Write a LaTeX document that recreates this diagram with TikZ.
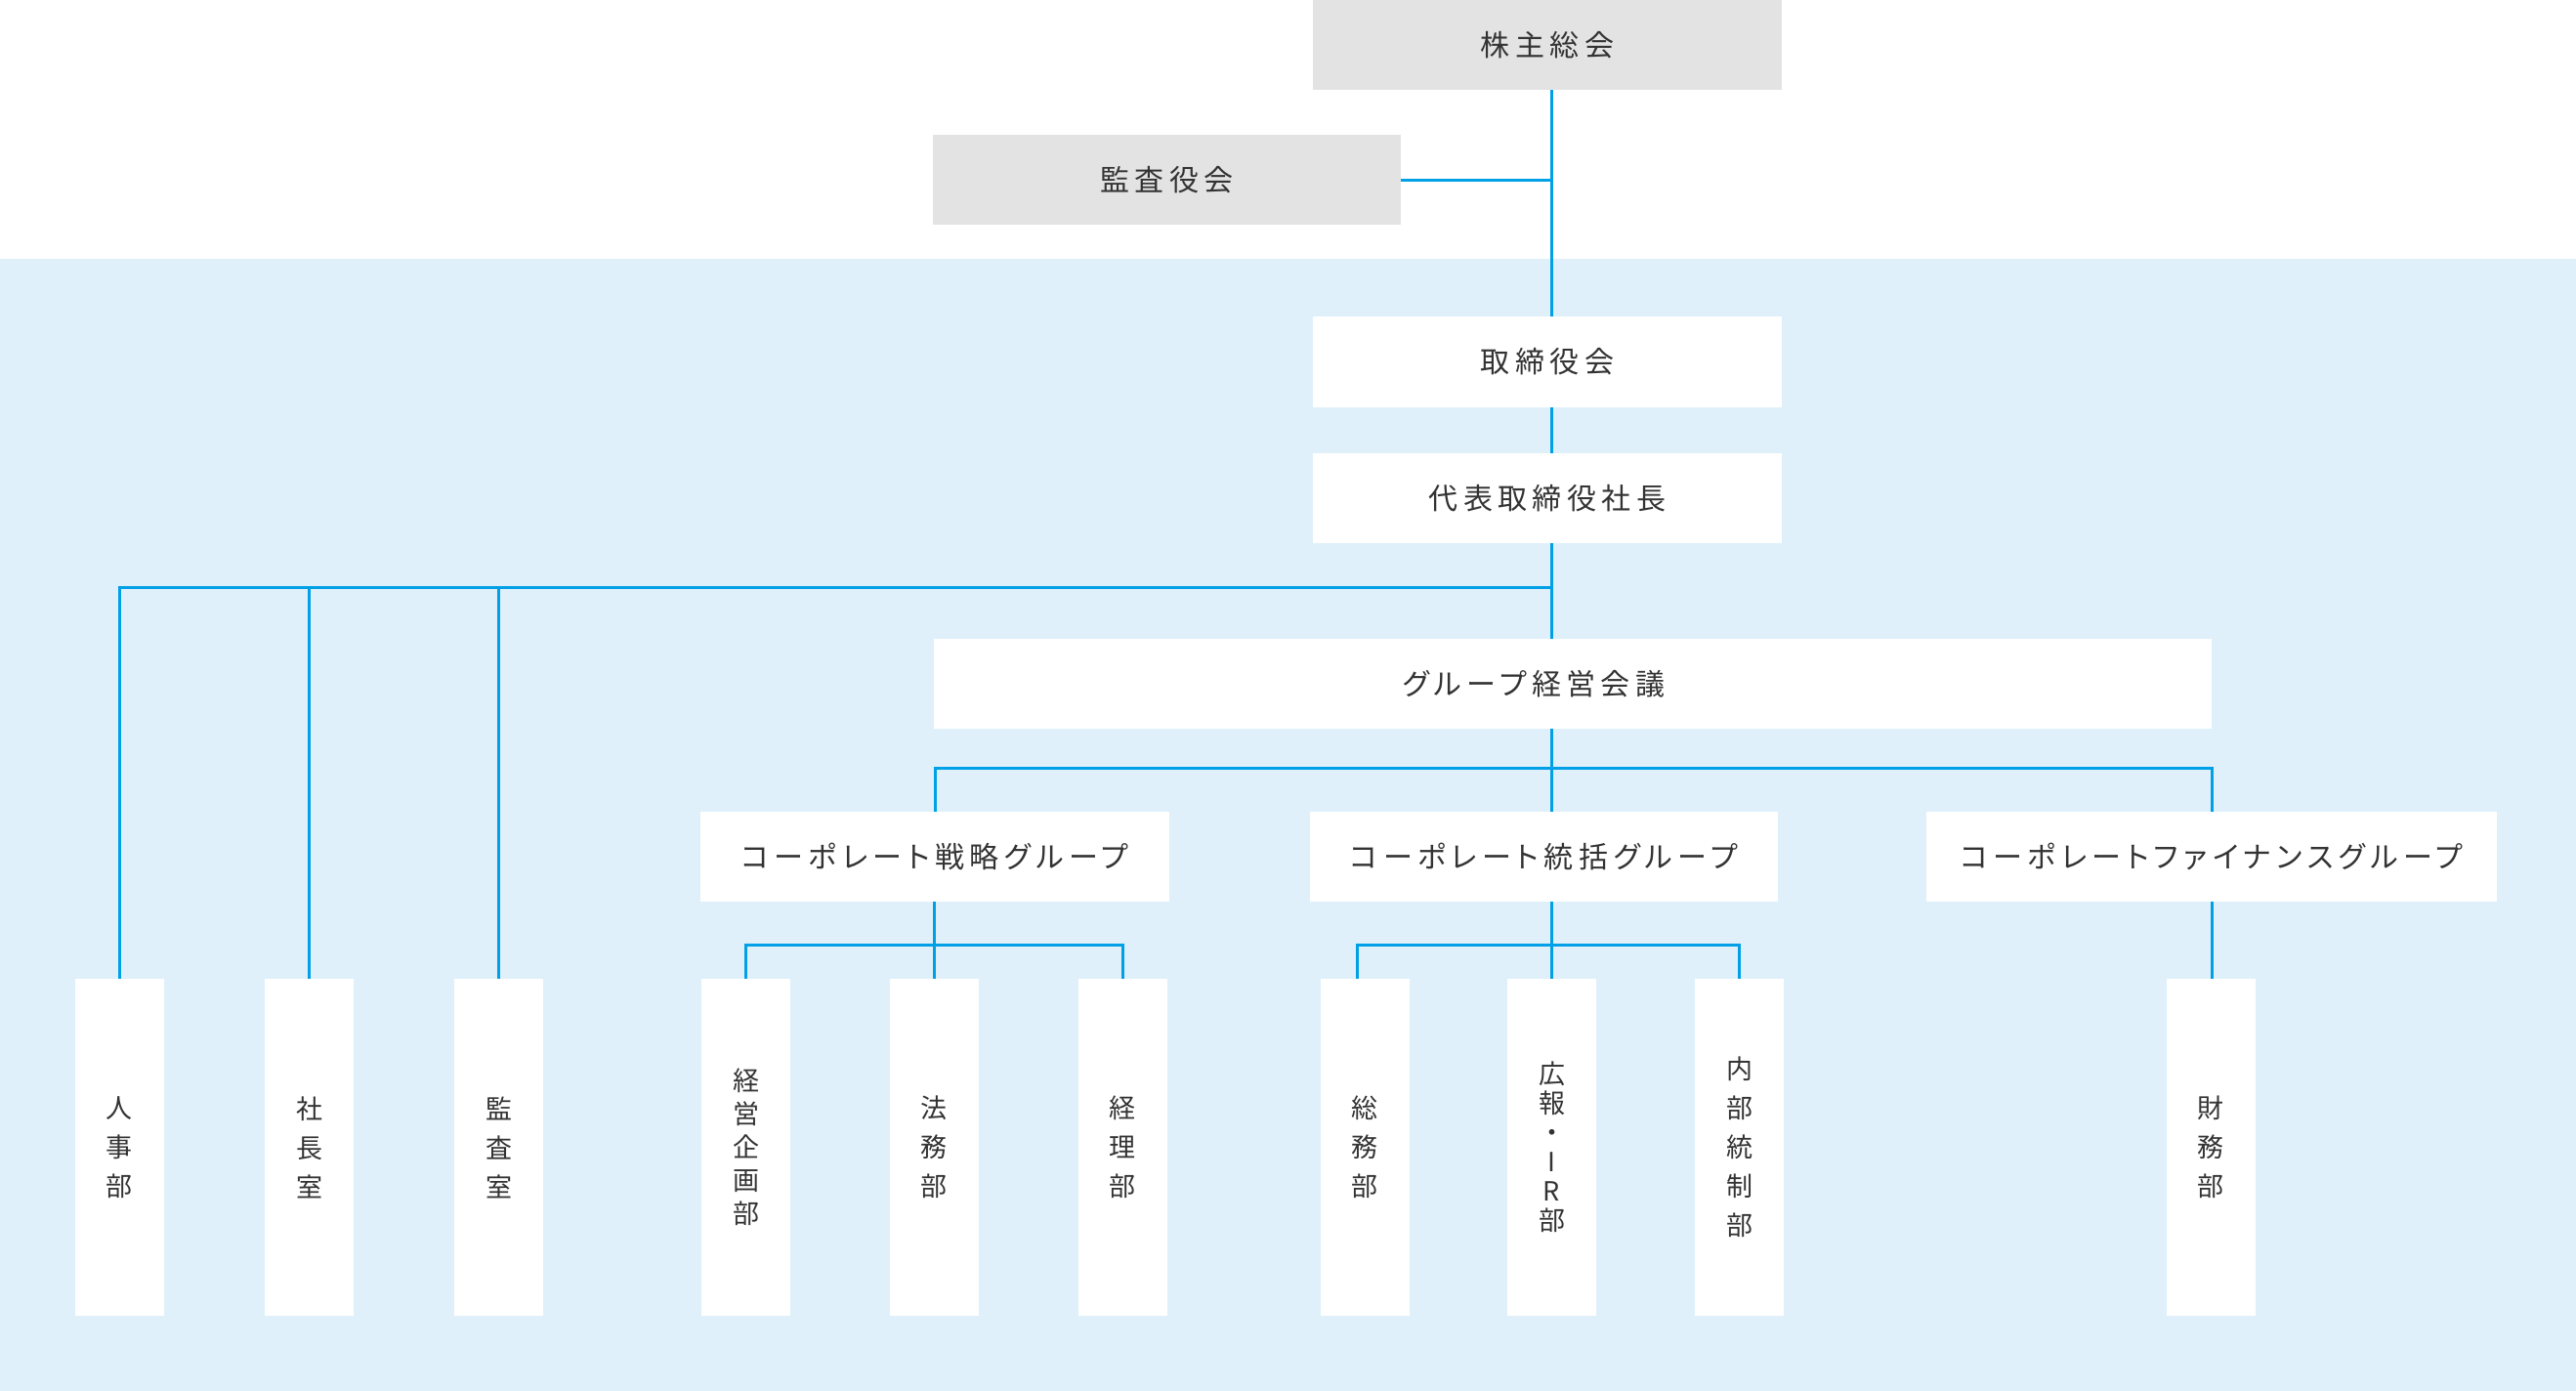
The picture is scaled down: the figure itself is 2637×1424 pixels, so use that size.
\documentclass[tikz,border=0pt]{standalone}
\usepackage{fontspec}
\newfontfamily\jph{Noto Sans CJK JP}[LetterSpace=18,CharacterWidth=AlternateProportional]
\newfontfamily\jpv{Noto Sans CJK JP}
\definecolor{lineblue}{HTML}{00A0E6}
\definecolor{bgblue}{HTML}{DFF0FA}
\definecolor{boxgray}{HTML}{E3E3E3}
\definecolor{txt}{HTML}{333333}
\begin{document}
\begin{tikzpicture}[x=1pt,y=-1pt,
  htext/.style={text=txt, inner sep=0pt, font=\jph\fontsize{30}{36}\selectfont},
  hbox/.style={htext, fill=white, minimum height=92pt},
  gbox/.style={hbox, fill=boxgray},
  vbox/.style={fill=white, inner sep=0pt, minimum width=91pt, minimum height=345pt,
    text=txt, align=center, font=\jpv\fontsize{27}{#1}\selectfont},
  vbox/.default=40,
  conn/.style={draw=lineblue, line width=3pt}]
\useasboundingbox (0,0) rectangle (2637,1424);
\fill[white] (0,0) rectangle (2637,1424);
\fill[bgblue] (0,265) rectangle (2637,1424);
\coordinate (mx) at (1588,0);
\coordinate (sx) at (1389,0);
\coordinate (bus1) at (0,601);
\coordinate (bus2) at (0,786);
\coordinate (bus3) at (0,967);
% upper boxes
\node[gbox, minimum width=480pt] (kabu) at (1584,46) {株主総会};
\node[gbox, minimum width=479pt] (kansa) at (1194.5,184) {監査役会};
\node[hbox, minimum width=480pt, minimum height=93pt] (tori) at (1584,370.5) {取締役会};
\node[hbox, minimum width=480pt] (daihyo) at (1584,510) {代表取締役社長};
\node[hbox, minimum width=1308pt,
  label={[htext, xshift=-40pt]center:グループ経営会議}] (gkaigi) at (1610,700) {};
\node[hbox, minimum width=480pt] (senryaku) at (957,877) {コーポレート戦略グループ};
\node[hbox, minimum width=479pt] (toukatsu) at (1580.5,877) {コーポレート統括グループ};
\node[hbox, minimum width=584pt] (finance) at (2264,877) {コーポレートファイナンスグループ};
% bottom boxes
\node[vbox] (jinji) at (122,1174.5) {人\\事\\部};
\node[vbox] (shacho) at (316.5,1174.5) {社\\長\\室};
\node[vbox] (kansas) at (510.5,1174.5) {監\\査\\室};
\node[vbox=34] (keiei) at (763.5,1174.5) {経\\営\\企\\画\\部};
\node[vbox] (houmu) at (956,1174.5) {法\\務\\部};
\node[vbox] (keiri) at (1149,1174.5) {経\\理\\部};
\node[vbox] (somu) at (1397,1174.5) {総\\務\\部};
\node[vbox=30] (kouhou) at (1588.5,1174.5) {広\\報\\・\\I\\R\\部};
\node[vbox] (naibu) at (1780.5,1174.5) {内\\部\\統\\制\\部};
\node[vbox] (zaimu) at (2263,1174.5) {財\\務\\部};
% connectors
\draw[conn] (kabu.south -| mx) -- (tori.north -| mx);
\draw[conn] (kansa.east) -- (kansa.east -| mx);
\draw[conn] (tori.south -| mx) -- (daihyo.north -| mx);
\draw[conn] (daihyo.south -| mx) -- (gkaigi.north -| mx);
\draw[conn] (jinji.north) -- (jinji.north |- bus1) -- (bus1 -| mx);
\draw[conn] (shacho.north) -- (shacho.north |- bus1);
\draw[conn] (kansas.north) -- (kansas.north |- bus1);
\draw[conn] (gkaigi.south -| mx) -- (toukatsu.north -| mx);
\draw[conn] (senryaku.north) -- (senryaku.north |- bus2) -- (finance.north |- bus2) -- (finance.north);
\draw[conn] (senryaku.south -| houmu.north) -- (houmu.north);
\draw[conn] (keiei.north) -- (keiei.north |- bus3) -- (keiri.north |- bus3) -- (keiri.north);
\draw[conn] (toukatsu.south -| mx) -- (kouhou.north -| mx);
\draw[conn] (somu.north -| sx) -- (bus3 -| sx) -- (bus3 -| naibu.north) -- (naibu.north);
\draw[conn] (finance.south) -- (finance.south |- zaimu.north);
\end{tikzpicture}
\end{document}
